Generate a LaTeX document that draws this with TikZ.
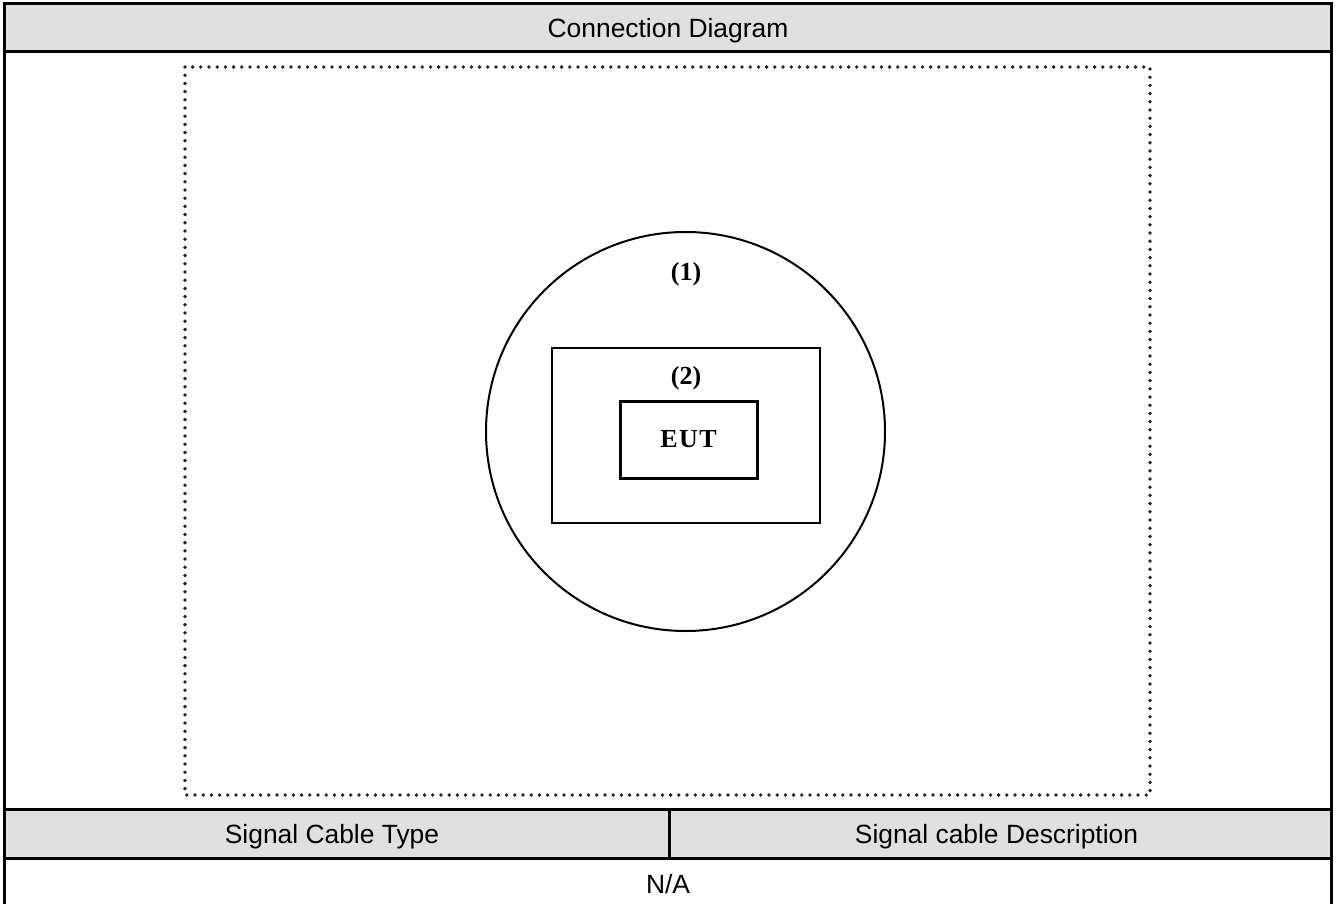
\documentclass[tikz,border=0pt]{standalone}
\usepackage{fontspec}
\setmainfont{Liberation Sans}
\newfontfamily\tnr{Liberation Serif}
\definecolor{hdr}{RGB}{224,224,224}
\begin{document}
\begin{tikzpicture}[x=1pt,y=-1pt,
  frame/.style={line width=3pt},
  celltext/.style={font=\fontsize{26.4}{30}\selectfont, inner sep=0pt, anchor=base},
  lbl/.style={font=\tnr\bfseries\fontsize{26}{30}\selectfont, inner sep=0pt, anchor=center},
  dotbox/.style={draw=black!85, line width=3.8pt, line cap=round, dash pattern=on 0pt off 8.2pt},
]
\useasboundingbox (0,0) rectangle (1336,904);
\fill[white] (0,0) rectangle (1336,904);
% header fills
\fill[hdr] (4,3.5) rectangle (1331,52);
\fill[hdr] (4,809) rectangle (1331,858);
% table lines
\draw[frame] (4,3.5) -- (1331,3.5);
\draw[frame] (4,52) -- (1331,52);
\draw[frame] (4,809) -- (1331,809);
\draw[frame] (4,858) -- (1331,858);
\draw[frame] (4,2) -- (4,904);
\draw[frame] (1331,2) -- (1331,904);
\draw[frame] (669,809) -- (669,858);
% texts
\node[celltext] (title) at (668,38) {Connection Diagram};
\node[celltext] (type) at (332,843) {Signal Cable Type};
\node[celltext] (desc) at (996.5,843) {Signal cable Description};
\node[celltext] (na) at (668,893) {N/A};
% dotted area
\draw[dotbox] (185,67) rectangle (1150,795);
% circle
\node[draw, line width=2pt, circle, minimum size=399pt, inner sep=0pt] (room) at (685.5,431.5) {};
\node[lbl] (l1) at (686,274) {(1)};
\node[draw, line width=2pt, minimum width=268pt, minimum height=175pt, inner sep=0pt] (encl) at (686,435.5) {};
\node[lbl] (l2) at (686,378) {(2)};
\node[draw, line width=3pt, minimum width=137pt, minimum height=77pt, inner sep=0pt, font=\tnr\bfseries\fontsize{26}{30}\selectfont] (eut) at (688.5,439.5) {E\kern1.5ptU\kern1.5ptT};
\end{tikzpicture}
\end{document}
